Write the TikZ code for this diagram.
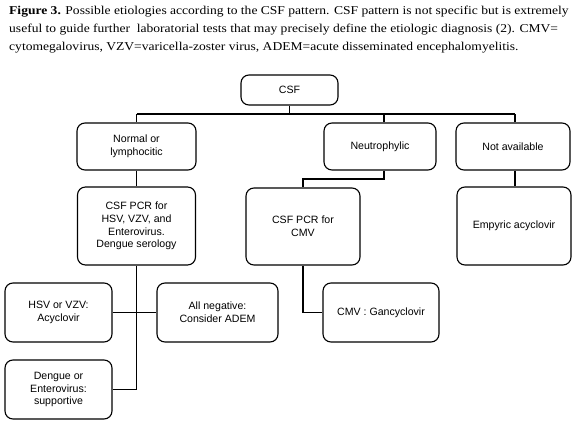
\documentclass[tikz,border=0pt]{standalone}
\usepackage{fontspec}
\setmainfont{Liberation Serif}
\newfontfamily\capfont[FakeStretch=1.13]{Liberation Serif}
\newfontfamily\diafont{Liberation Sans}
\begin{document}
\begin{tikzpicture}[x=1pt,y=-1pt,
  box/.style={draw, rounded corners=8pt, line width=1.1pt, align=center,
    font=\diafont\fontsize{10.6}{12.7}\selectfont, inner sep=0pt},
  link/.style={line width=1.1pt},
  captext/.style={anchor=base west, inner sep=0pt, font=\capfont\fontsize{12}{14}\selectfont}]
\useasboundingbox (0,0) rectangle (580,425);
% caption
\node[captext] (c1) at (9,14.5) {\textbf{Figure 3.} Possible etiologies according to the CSF pattern. CSF pattern is not specific but is extremely};
\node[captext] (c2) at (9,33) {useful to guide further\ \ laboratorial tests that may precisely define the etiologic diagnosis (2). CMV=};
\node[captext] (c3) at (9,51) {cytomegalovirus, VZV=varicella-zoster virus, ADEM=acute disseminated encephalomyelitis.};
% boxes
\node[box, minimum width=97pt, minimum height=30pt] (csf) at (289.5,90) {CSF};
\node[box, minimum width=119pt, minimum height=47pt] (normal) at (136.5,146.5) {Normal or\\lymphocitic};
\node[box, minimum width=112pt, minimum height=47pt] (neutro) at (380,146.5) {Neutrophylic};
\node[box, minimum width=114pt, minimum height=47pt] (notav) at (513,146.5) {Not available};
\node[box, minimum width=118pt, minimum height=78pt] (pcr) at (136.5,226) {CSF PCR for\\HSV, VZV, and\\Enterovirus.\\Dengue serology};
\node[box, minimum width=114pt, minimum height=77pt] (pcrcmv) at (303,226.5) {CSF PCR for\\CMV};
\node[box, minimum width=114pt, minimum height=78pt] (empy) at (514,226) {Empyric acyclovir};
\node[box, minimum width=107pt, minimum height=59pt] (hsv) at (58.5,312.5) {HSV or VZV:\\Acyclovir};
\node[box, minimum width=121pt, minimum height=59pt] (allneg) at (217.5,312.5) {All negative:\\Consider ADEM};
\node[box, minimum width=107pt, minimum height=59pt] (dengue) at (58.5,389.5) {Dengue or\\Enterovirus:\\supportive};
\node[box, minimum width=116pt, minimum height=59pt] (cmv) at (381,312.5) {CMV : Gancyclovir};
% connectors
\coordinate (busL) at (136.5,114);
\coordinate (busR) at (515,114);
\coordinate (busN) at (384,114);
\coordinate (nlow) at (384,179);
\draw[link] (csf.south) -- (csf.south |- busL);
\draw[link] (busL) -- (busR);
\draw[link] (busL) -- (normal.north);
\draw[link] (busN) -- (busN |- neutro.north);
\draw[link] (busR) -- (busR |- notav.north);
\draw[link] (normal.south) -- (pcr.north);
\draw[link] (busR |- notav.south) -- (busR |- empy.north);
\draw[link] (nlow |- neutro.south) -- (nlow) -| (pcrcmv.north);
\draw[link] (pcr.south) -- (pcr.south |- dengue.east) -- (dengue.east);
\draw[link] (hsv.east) -- (allneg.west);
\draw[link] (pcrcmv.south) -- (pcrcmv.south |- cmv.west) -- (cmv.west);
\end{tikzpicture}
\end{document}
